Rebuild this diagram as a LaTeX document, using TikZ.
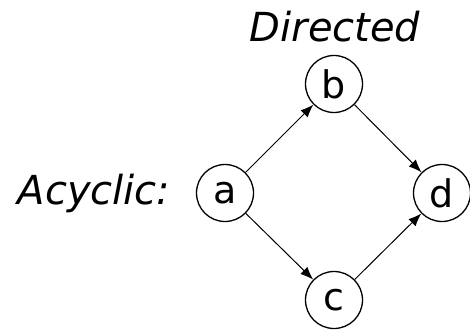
\documentclass[tikz,border=0pt]{standalone}
\usepackage{fontspec}
\setmainfont{DejaVu Sans}
\usetikzlibrary{arrows.meta}
\tikzset{
  vtx/.style={circle, draw, line width=1.3pt, minimum size=57pt, inner sep=0pt, font=\fontsize{38}{42}\selectfont},
  lbl/.style={font=\fontsize{40}{44}\selectfont\itshape, inner sep=0pt},
  edge/.style={line width=1pt, -{Latex[length=13pt,width=10pt]}}
}
\begin{document}
\begin{tikzpicture}[x=1pt,y=-1pt]
\useasboundingbox (0,0) rectangle (470,331);
\node[vtx] (a) at (225,193) {a};
\node[vtx] (b) at (334,84) {b};
\node[vtx] (c) at (334,300) {c};
\node[vtx] (d) at (442,193) {d};
\node[lbl] (dir) at (335,27) {Directed};
\node[lbl] (acy) at (94,193) {Acyclic:};
\draw[edge] (a) -- (b);
\draw[edge] (a) -- (c);
\draw[edge] (b) -- (d);
\draw[edge] (c) -- (d);
\end{tikzpicture}
\end{document}
